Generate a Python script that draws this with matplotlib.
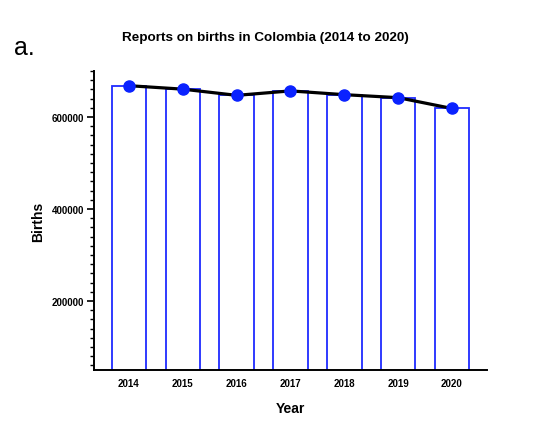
import numpy as np
import matplotlib.pyplot as plt
from matplotlib.ticker import MultipleLocator

plt.rcParams['font.family'] = ['Liberation Sans', 'DejaVu Sans']

years = ['2014', '2015', '2016', '2017', '2018', '2019', '2020']
births = [668000, 660500, 647000, 656700, 648500, 642000, 618500]

fig = plt.figure(figsize=(5.39, 4.31), dpi=100)
ax = fig.add_axes([0.1744, 0.1392, 0.7291, 0.6938])

x = np.arange(len(years))
ax.bar(x, births, width=0.64, color='white', edgecolor='#1f2bff', linewidth=1.3, zorder=2)
ax.plot(x, births, color='black', linewidth=2.3, marker='o', markersize=8,
        markerfacecolor='#0a22ff', markeredgecolor='#0a22ff', zorder=3)

ax.set_xlim(-0.65, 6.65)
ax.set_ylim(50000, 700000)
ax.set_xticks(x)
ax.set_xticklabels(years)
ax.set_yticks([200000, 400000, 600000])
ax.yaxis.set_minor_locator(MultipleLocator(20000))

for s in ['top', 'right']:
    ax.spines[s].set_visible(False)
for s in ['left', 'bottom']:
    ax.spines[s].set_linewidth(1.4)

ax.tick_params(axis='x', length=0, pad=6, labelsize=7)
ax.tick_params(axis='y', which='major', length=5, width=1.2, pad=2, labelsize=7)
ax.tick_params(axis='y', which='minor', length=3, width=1.0)
for lab in ax.get_xticklabels() + ax.get_yticklabels():
    lab.set_fontweight('bold')

ax.set_xlabel('Year', fontsize=10, fontweight='bold', labelpad=9)
ax.set_ylabel('Births', fontsize=10, fontweight='bold', labelpad=5)

fig.text(0.492, 0.912, 'Reports on births in Colombia (2014 to 2020)',
         ha='center', va='center', fontsize=9.7, fontweight='bold')
fig.text(0.026, 0.888, 'a.', ha='left', va='center', fontsize=18)

fig.savefig('out.png', dpi=100)
